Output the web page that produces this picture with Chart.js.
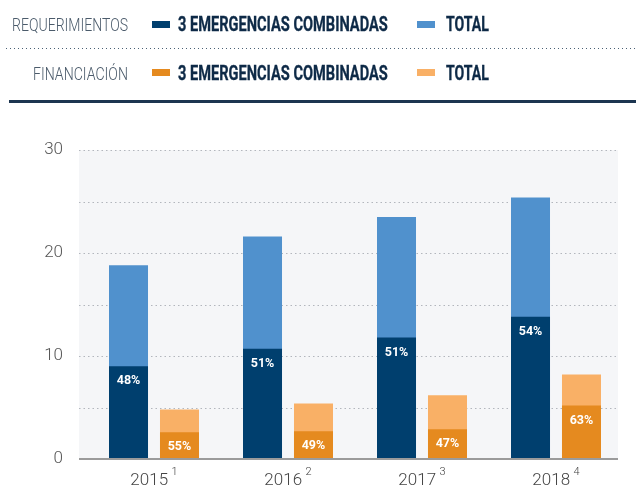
<!DOCTYPE html>
<html><head><meta charset="utf-8">
<script src="https://cdn.jsdelivr.net/npm/chart.js@4.4.1/dist/chart.umd.min.js"></script>
<style>
html,body{margin:0;padding:0;background:#fff;width:636px;height:486px;overflow:hidden;}
#wrap{position:relative;width:636px;height:486px;}
canvas{position:absolute;left:0;top:0;}
.t{position:absolute;white-space:nowrap;transform-origin:left center;line-height:1;}
.cat{font-family:Roboto,"Liberation Sans",sans-serif;font-weight:300;font-size:19px;color:#4b5b6b;}
.lab{font-family:Roboto,"Liberation Sans",sans-serif;font-weight:700;font-size:21px;color:#0e2a47;-webkit-text-stroke:0.35px #0e2a47;}
.sw{position:absolute;width:18px;height:7px;}
#dots{position:absolute;left:6px;top:48px;width:630px;height:1px;background-image:repeating-linear-gradient(to right,#4a6075 0,#4a6075 1.3px,transparent 1.3px,transparent 4px);}
#thick{position:absolute;left:9px;top:100px;width:627px;height:3px;background:#1c3550;}
</style></head>
<body><div id="wrap">
<canvas id="c" width="636" height="486"></canvas>
<div class="t cat" data-l="12" data-w="116" data-cy="24">REQUERIMIENTOS</div>
<div class="sw" style="left:152px;top:21px;background:#003f6e"></div>
<div class="t lab" data-l="178" data-w="210" data-cy="24.5">3 EMERGENCIAS COMBINADAS</div>
<div class="sw" style="left:417px;top:21px;background:#5091cd"></div>
<div class="t lab" data-l="446" data-w="43" data-cy="24.5">TOTAL</div>
<div id="dots"></div>
<div class="t cat" data-l="33" data-w="95" data-cy="73">FINANCIACIÓN</div>
<div class="sw" style="left:152px;top:69px;background:#e58a1f"></div>
<div class="t lab" data-l="178" data-w="210" data-cy="73.5">3 EMERGENCIAS COMBINADAS</div>
<div class="sw" style="left:417px;top:69px;background:#f9b066"></div>
<div class="t lab" data-l="446" data-w="43" data-cy="73.5">TOTAL</div>
<div id="thick"></div>
</div>
<script>
// ---- data ----
const years = ['2015', '2016', '2017', '2018'];
const notes = ['1', '2', '3', '4'];
const reqCombined = [9.0, 10.7, 11.8, 13.8];
const reqTotal = [18.8, 21.6, 23.5, 25.4];
const finCombined = [2.6, 2.7, 2.9, 5.2];
const finTotal = [4.8, 5.4, 6.2, 8.2];
const reqPct = ['48%', '51%', '51%', '54%'];
const finPct = ['55%', '49%', '47%', '63%'];
const yTicks = [0, 10, 20, 30];
const gridStep = 5;

// ---- legend text fitting ----
document.querySelectorAll('.t').forEach(el => {
  const w = el.offsetWidth, h = el.offsetHeight;
  const s = (+el.dataset.w) / w;
  el.style.left = el.dataset.l + 'px';
  el.style.top = (+el.dataset.cy - h / 2) + 'px';
  el.style.transform = 'scaleX(' + s + ')';
});

const pctByDataset = [reqPct, finPct, null, null];

const deco = {
  id: 'deco',
  beforeDatasetsDraw(chart) {
    const { ctx, chartArea: a, scales: { y } } = chart;
    const left = a.left - 8, right = a.right - 5;
    ctx.save();
    ctx.fillStyle = '#f5f6f8';
    ctx.fillRect(left, a.top, right - left, a.bottom - a.top);
    ctx.strokeStyle = '#b2b6bd';
    ctx.lineWidth = 1;
    ctx.setLineDash([1.5, 3]);
    for (let v = gridStep; v <= y.max; v += gridStep) {
      const py = Math.round(y.getPixelForValue(v)) + 0.5;
      ctx.beginPath(); ctx.moveTo(left, py); ctx.lineTo(right, py); ctx.stroke();
    }
    ctx.restore();
  },
  afterDatasetsDraw(chart) {
    const { ctx, chartArea: a, scales: { x, y } } = chart;
    const left = a.left - 8, right = a.right - 5;
    ctx.save();
    ctx.fillStyle = '#9b9b9b';
    ctx.fillRect(left, Math.round(y.getPixelForValue(0)) - 1, right - left, 2);
    // value labels
    ctx.fillStyle = '#ffffff';
    ctx.font = '700 12.5px Roboto, "Liberation Sans", sans-serif';
    ctx.textAlign = 'center';
    ctx.textBaseline = 'middle';
    pctByDataset.forEach((arr, di) => {
      if (!arr) return;
      const meta = chart.getDatasetMeta(di);
      meta.data.forEach((bar, i) => {
        const top = bar.y, base = bar.base;
        const cy = Math.min(top + 15, (top + base) / 2 + 1);
        ctx.fillText(arr[i], bar.x, cy);
      });
    });
    // category labels with superscript notes
    ctx.textAlign = 'left';
    ctx.textBaseline = 'alphabetic';
    const base = a.bottom + 26;
    years.forEach((yr, i) => {
      const cx = x.getPixelForValue(i);
      ctx.font = '300 17px Roboto, "Liberation Sans", sans-serif';
      const wm = ctx.measureText(yr).width;
      ctx.font = '300 11px Roboto, "Liberation Sans", sans-serif';
      const ws = ctx.measureText(notes[i]).width;
      const gap = 3.5;
      const x0 = cx - (wm + gap + ws) / 2;
      ctx.fillStyle = '#444';
      ctx.font = '300 17px Roboto, "Liberation Sans", sans-serif';
      ctx.fillText(yr, x0, base);
      ctx.font = '300 11px Roboto, "Liberation Sans", sans-serif';
      ctx.fillText(notes[i], x0 + wm + gap, base - 10);
    });
    ctx.restore();
  }
};

new Chart(document.getElementById('c'), {
  type: 'bar',
  data: {
    labels: years,
    datasets: [
      { label: 'Req combinadas', data: reqCombined, backgroundColor: '#003f6e', stack: 'req' },
      { label: 'Fin combinadas', data: finCombined, backgroundColor: '#e58a1f', stack: 'fin' },
      { label: 'Req total', data: reqTotal, backgroundColor: '#5091cd', stack: 'req' },
      { label: 'Fin total', data: finTotal, backgroundColor: '#f9b066', stack: 'fin' }
    ]
  },
  options: {
    responsive: false,
    animation: false,
    devicePixelRatio: 1,
    categoryPercentage: 0.761,
    barPercentage: 0.765,
    layout: { padding: { top: 150, right: 13, left: 0, bottom: 0 } },
    plugins: { legend: { display: false }, tooltip: { enabled: false } },
    scales: {
      x: {
        stacked: true,
        grid: { display: false, drawTicks: false },
        border: { display: false },
        ticks: { display: false },
        afterFit(s) { s.height = 27; s.paddingLeft = 0; s.paddingRight = 0; }
      },
      y: {
        stacked: false,
        min: 0, max: 30,
        afterBuildTicks(s) { s.ticks = yTicks.map(v => ({ value: v })); },
        grid: { display: false, drawTicks: false },
        border: { display: false },
        ticks: { color: '#555', padding: 24, font: { family: 'Roboto', size: 17, weight: 300 } },
        afterFit(s) { s.width = 87; s.paddingTop = 0; s.paddingBottom = 0; }
      }
    }
  },
  plugins: [deco]
});
</script>
</body></html>
